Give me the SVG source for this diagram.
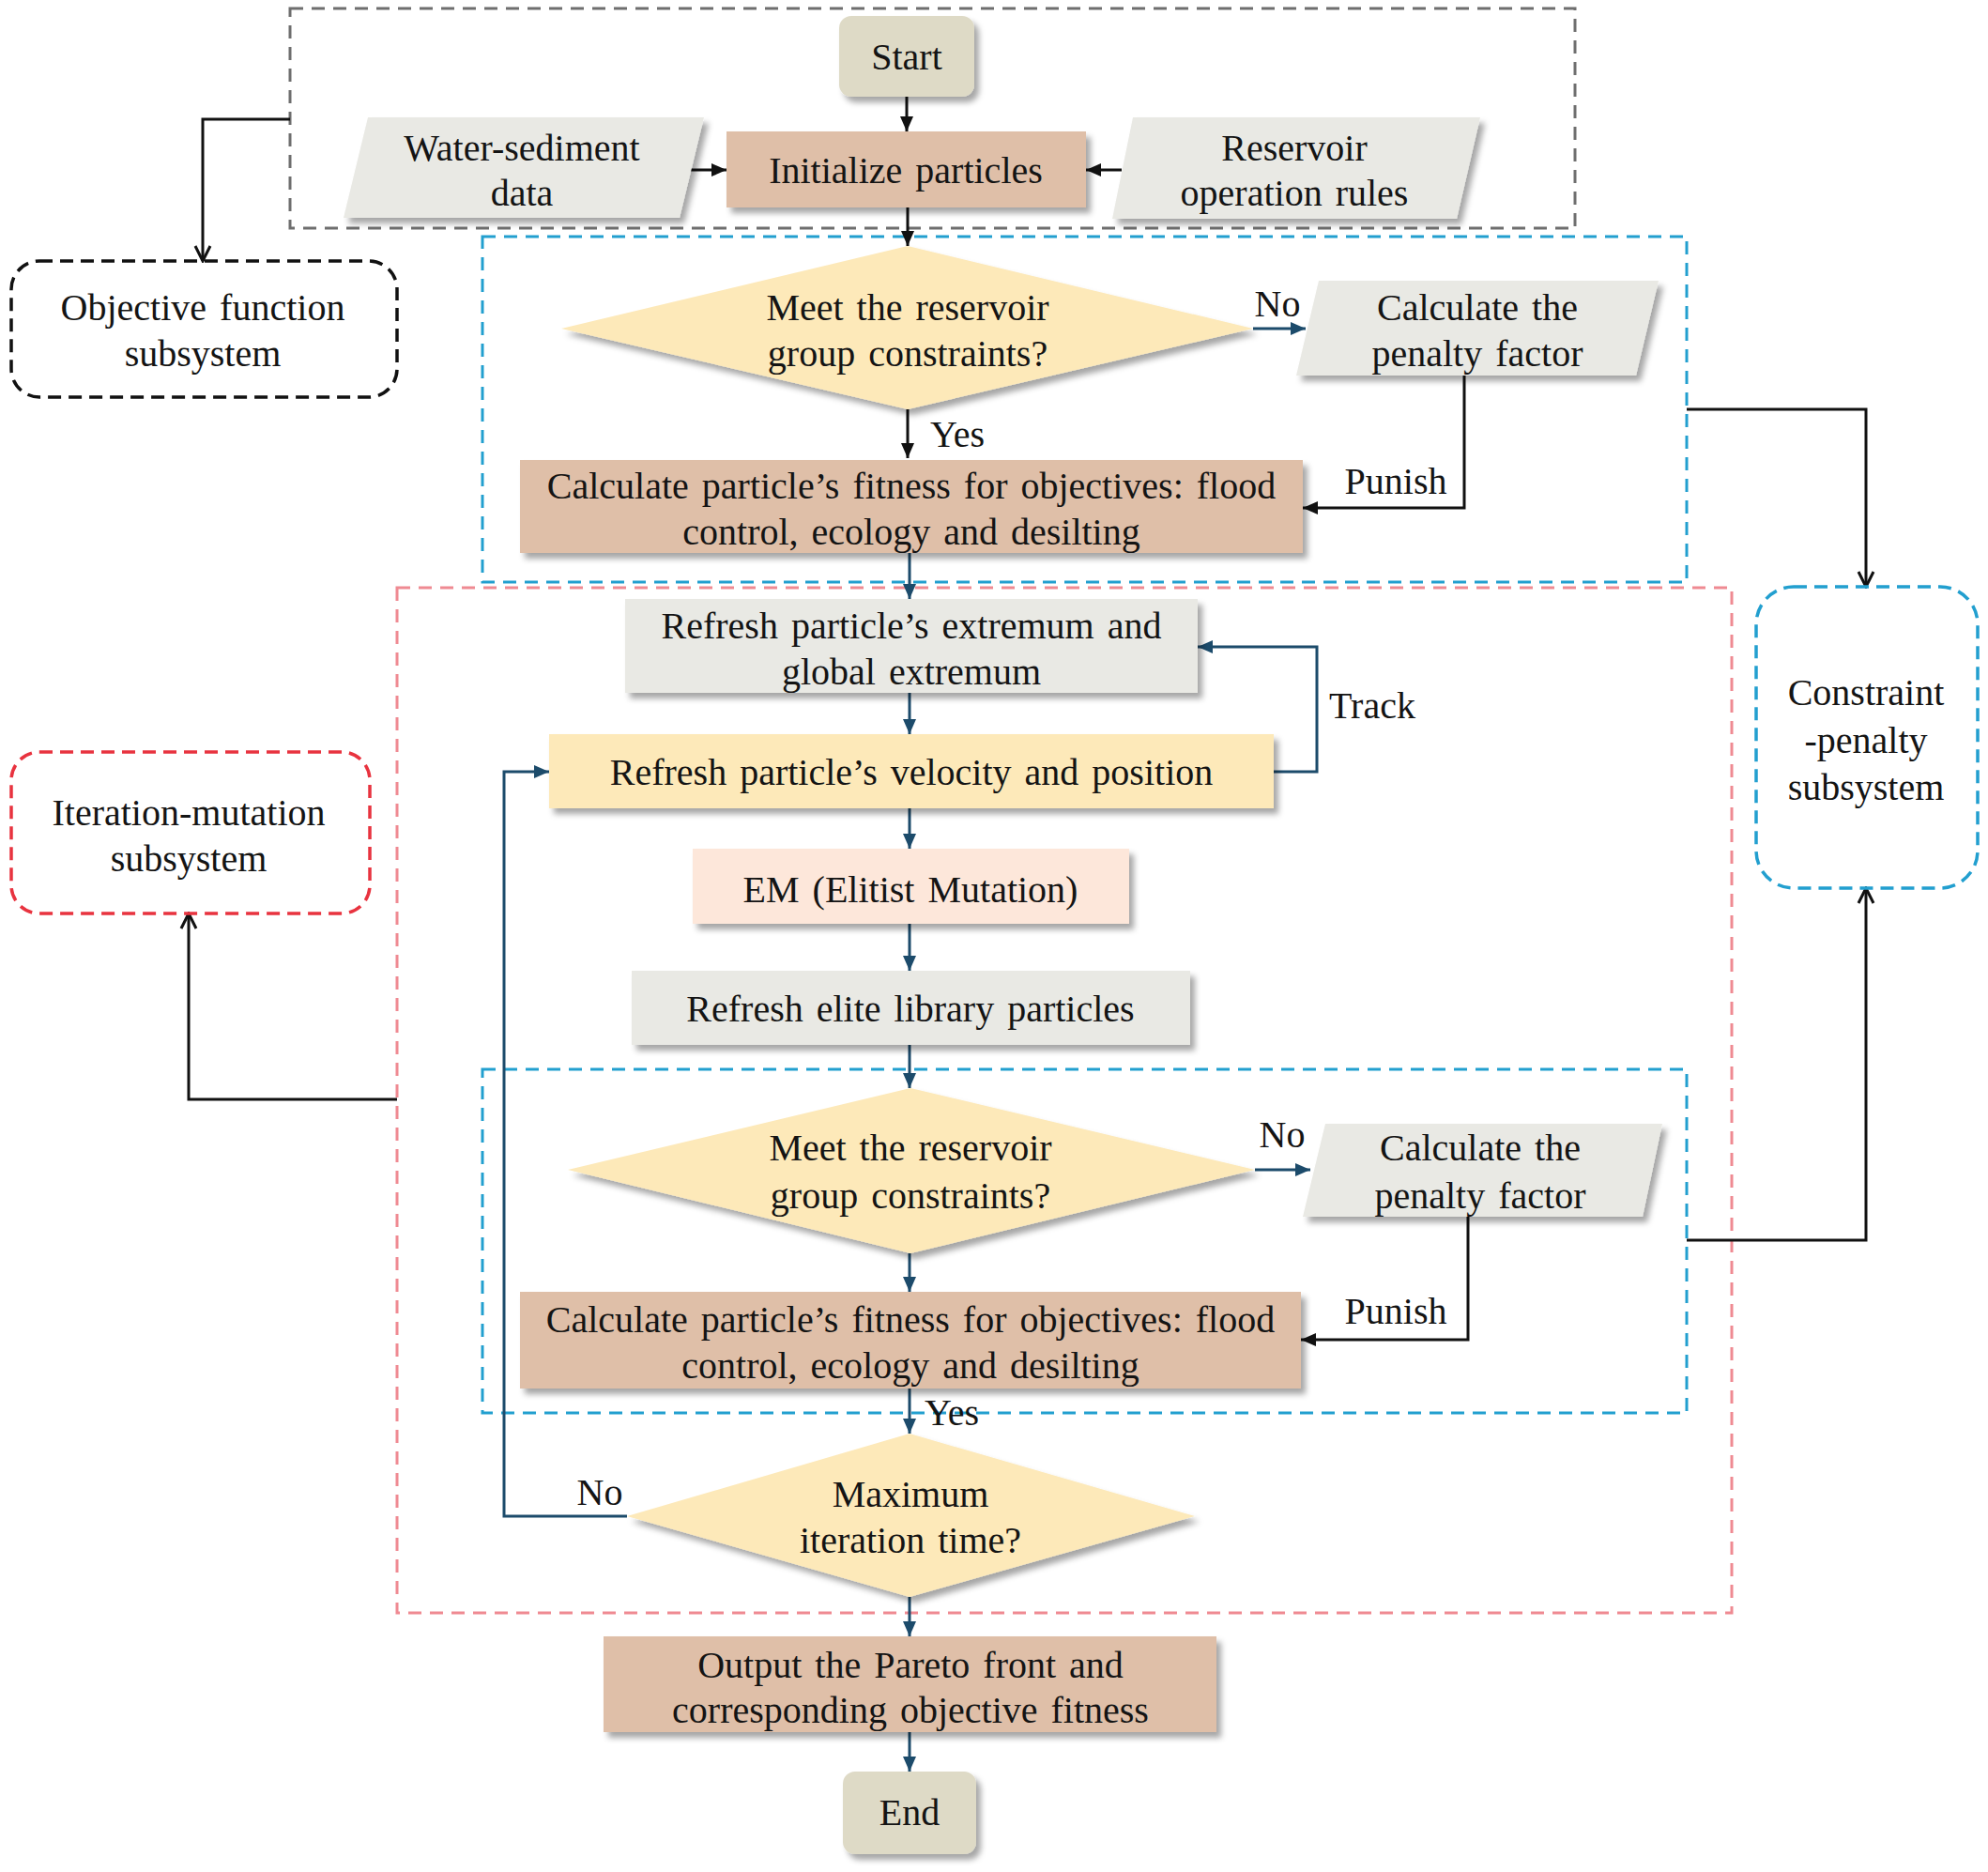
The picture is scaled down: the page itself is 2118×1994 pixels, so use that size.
<svg xmlns="http://www.w3.org/2000/svg" width="2118" height="1994" viewBox="0 0 2118 1994">
<style>
text{font-family:"Liberation Serif","Times New Roman",serif;font-size:40px;fill:#141414;text-anchor:middle;word-spacing:4px}
.gray{fill:#e9e9e4}
.tan{fill:#dfbfa8}
.yel{fill:#fde9b9}
.peach{fill:#fde7da}
.term{fill:#dedac6}
.frame{fill:none;stroke-width:3;stroke-dasharray:14 9}
.sub{fill:none;stroke-width:3.5;stroke-dasharray:14 8}
.ck{fill:none;stroke:#111;stroke-width:3}
.cb{fill:none;stroke:#1c4b6b;stroke-width:3}
</style>
<defs>
<filter id="sh" x="-10%" y="-10%" width="130%" height="140%">
<feDropShadow dx="5" dy="6" stdDeviation="3" flood-color="#000" flood-opacity="0.35"/>
</filter>
<marker id="ak" markerUnits="userSpaceOnUse" markerWidth="16" markerHeight="14" viewBox="0 0 16 14" refX="16" refY="7" orient="auto">
<path d="M0,0 L16,7 L0,14 Z" fill="#111"/>
</marker>
<marker id="ab" markerUnits="userSpaceOnUse" markerWidth="16" markerHeight="14" viewBox="0 0 16 14" refX="16" refY="7" orient="auto">
<path d="M0,0 L16,7 L0,14 Z" fill="#1c4b6b"/>
</marker>
<marker id="ao" markerUnits="userSpaceOnUse" markerWidth="20" markerHeight="20" viewBox="0 0 20 20" refX="18" refY="10" orient="auto">
<path d="M2,2 L18,10 L2,18" fill="none" stroke="#111" stroke-width="3"/>
</marker>
</defs>

<g id="frames">
<rect id="frame-init" class="frame" x="309" y="9" width="1369" height="234" stroke="#6e6e6e"/>
<rect id="frame-constraint1" class="frame" x="514" y="252" width="1283" height="368" stroke="#229fcf"/>
<rect id="frame-iteration" class="frame" x="423" y="626" width="1422" height="1092" stroke="#ef8a92"/>
<rect id="frame-constraint2" class="frame" x="514" y="1139" width="1283" height="366" stroke="#229fcf"/>
</g>

<g id="connectors">
<path class="ck" d="M966,103 V140" marker-end="url(#ak)"/>
<path class="ck" d="M734,181 H774" marker-end="url(#ak)"/>
<path class="ck" d="M1195,181 H1157" marker-end="url(#ak)"/>
<path class="ck" d="M967,221 V262" marker-end="url(#ak)"/>
<path class="cb" d="M1335,350 H1391" marker-end="url(#ab)"/>
<path class="ck" d="M967,436 V488" marker-end="url(#ak)"/>
<path class="ck" d="M1560,400 V541 H1388" marker-end="url(#ak)"/>
<path class="cb" d="M969,589 V638" marker-end="url(#ab)"/>
<path class="cb" d="M969,738 V782" marker-end="url(#ab)"/>
<path class="cb" d="M1357,822 H1403 V689 H1276" marker-end="url(#ab)"/>
<path class="cb" d="M969,861 V904" marker-end="url(#ab)"/>
<path class="cb" d="M969,984 V1034" marker-end="url(#ab)"/>
<path class="cb" d="M969,1113 V1159" marker-end="url(#ab)"/>
<path class="cb" d="M1337,1246 H1396" marker-end="url(#ab)"/>
<path class="ck" d="M1564,1296 V1427 H1386" marker-end="url(#ak)"/>
<path class="cb" d="M969,1335 V1376" marker-end="url(#ab)"/>
<path class="cb" d="M969,1479 V1527" marker-end="url(#ab)"/>
<path class="cb" d="M668,1615 H537 V822 H585" marker-end="url(#ab)"/>
<path class="cb" d="M969,1701 V1743" marker-end="url(#ab)"/>
<path class="cb" d="M969,1845 V1887" marker-end="url(#ab)"/>
<path class="ck" d="M309,127 H216 V278" marker-end="url(#ao)"/>
<path class="ck" d="M423,1171 H201 V973" marker-end="url(#ao)"/>
<path class="ck" d="M1797,436 H1988 V625" marker-end="url(#ao)"/>
<path class="ck" d="M1797,1321 H1988 V946" marker-end="url(#ao)"/>
<text x="1361" y="337">No</text>
<text x="1020" y="476">Yes</text>
<text x="1487" y="526">Punish</text>
<text x="1462" y="765">Track</text>
<text x="1366" y="1222">No</text>
<text x="1487" y="1410">Punish</text>
<text x="1014" y="1518">Yes</text>
<text x="639" y="1603">No</text>
</g>

<g id="start">
<rect class="term" x="894" y="17" width="144" height="86" rx="13" filter="url(#sh)"/>
<text x="966" y="74">Start</text>
</g>
<g id="water-sediment">
<polygon class="gray" points="392,125 750,125 724,232 366,232" filter="url(#sh)"/>
<text x="556" y="171">Water-sediment</text>
<text x="556" y="219">data</text>
</g>
<g id="initialize">
<rect class="tan" x="774" y="140" width="383" height="81" filter="url(#sh)"/>
<text x="965" y="195">Initialize particles</text>
</g>
<g id="reservoir-rules">
<polygon class="gray" points="1207,125 1577,125 1552,233 1185,233" filter="url(#sh)"/>
<text x="1379" y="171">Reservoir</text>
<text x="1379" y="219">operation rules</text>
</g>
<g id="objective-subsystem">
<rect x="12" y="278" width="411" height="145" rx="30" class="sub" stroke="#111"/>
<text x="216" y="341">Objective function</text>
<text x="216" y="390">subsystem</text>
</g>
<g id="decision1">
<polygon class="yel" points="967,262 1335,350 967,436 598,350" filter="url(#sh)"/>
<text x="967" y="341">Meet the reservoir</text>
<text x="967" y="390">group constraints?</text>
</g>
<g id="penalty1">
<polygon class="gray" points="1405,299 1767,299 1743,400 1381,400" filter="url(#sh)"/>
<text x="1574" y="341">Calculate the</text>
<text x="1574" y="390">penalty factor</text>
</g>
<g id="fitness1">
<rect class="tan" x="554" y="490" width="834" height="99" filter="url(#sh)"/>
<text x="971" y="531">Calculate particle’s fitness for objectives: flood</text>
<text x="971" y="580">control, ecology and desilting</text>
</g>
<g id="refresh-extremum">
<rect class="gray" x="666" y="638" width="610" height="100" filter="url(#sh)"/>
<text x="971" y="680">Refresh particle’s extremum and</text>
<text x="971" y="729">global extremum</text>
</g>
<g id="refresh-velocity">
<rect class="yel" x="585" y="782" width="772" height="79" filter="url(#sh)"/>
<text x="971" y="836">Refresh particle’s velocity and position</text>
</g>
<g id="em">
<rect class="peach" x="738" y="904" width="465" height="80" filter="url(#sh)"/>
<text x="970" y="961">EM (Elitist Mutation)</text>
</g>
<g id="elite">
<rect class="gray" x="673" y="1034" width="595" height="79" filter="url(#sh)"/>
<text x="970" y="1088">Refresh elite library particles</text>
</g>
<g id="decision2">
<polygon class="yel" points="970,1159 1337,1246 970,1335 605,1246" filter="url(#sh)"/>
<text x="970" y="1236">Meet the reservoir</text>
<text x="970" y="1287">group constraints?</text>
</g>
<g id="penalty2">
<polygon class="gray" points="1412,1197 1771,1197 1750,1296 1388,1296" filter="url(#sh)"/>
<text x="1577" y="1236">Calculate the</text>
<text x="1577" y="1287">penalty factor</text>
</g>
<g id="fitness2">
<rect class="tan" x="554" y="1376" width="832" height="103" filter="url(#sh)"/>
<text x="970" y="1419">Calculate particle’s fitness for objectives: flood</text>
<text x="970" y="1468">control, ecology and desilting</text>
</g>
<g id="decision3">
<polygon class="yel" points="969,1527 1273,1615 969,1701 668,1615" filter="url(#sh)"/>
<text x="970" y="1605">Maximum</text>
<text x="970" y="1654">iteration time?</text>
</g>
<g id="output">
<rect class="tan" x="643" y="1743" width="653" height="102" filter="url(#sh)"/>
<text x="970" y="1787">Output the Pareto front and</text>
<text x="970" y="1835">corresponding objective fitness</text>
</g>
<g id="end">
<rect class="term" x="898" y="1887" width="142" height="88" rx="13" filter="url(#sh)"/>
<text x="969" y="1944">End</text>
</g>
<g id="iteration-subsystem">
<rect x="12" y="801" width="382" height="172" rx="30" class="sub" stroke="#e8333f"/>
<text x="201" y="879">Iteration-mutation</text>
<text x="201" y="928">subsystem</text>
</g>
<g id="constraint-subsystem">
<rect x="1871" y="625" width="236" height="321" rx="40" class="sub" stroke="#229fcf"/>
<text x="1988" y="751">Constraint</text>
<text x="1988" y="802">-penalty</text>
<text x="1988" y="852">subsystem</text>
</g>
</svg>
